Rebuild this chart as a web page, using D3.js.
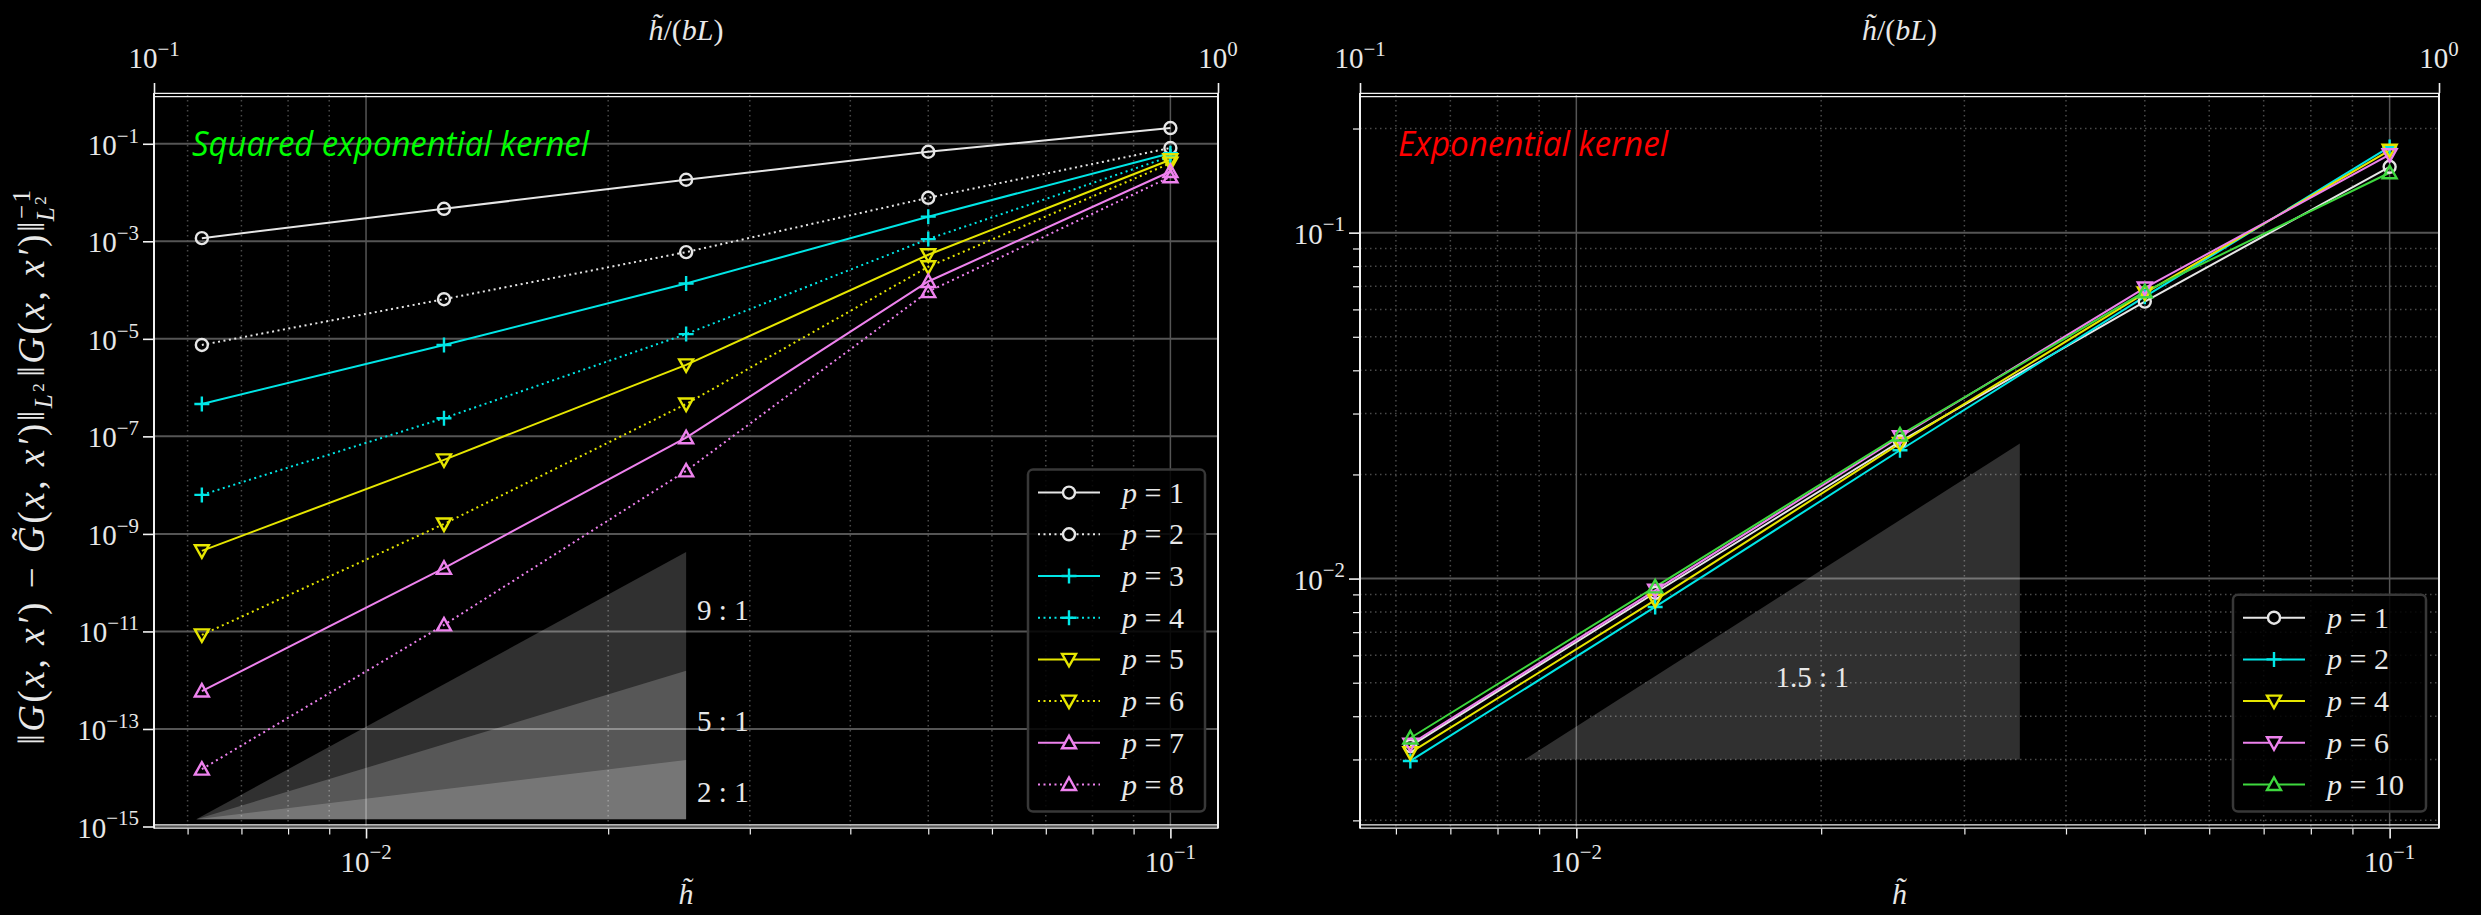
<!DOCTYPE html>
<html>
<head>
<meta charset="utf-8">
<script src="https://cdn.jsdelivr.net/npm/d3@7"></script>
<style>
body { margin: 0; background: #000; }
text { font-family: "Liberation Serif", "DejaVu Serif", serif; fill: #e8e8e8; }
</style>
</head>
<body>
<div id="chart"></div>
<script>
//////////
// Data //
//////////

// mesh size h~ (same for every series)
var hVals = [0.00625, 0.0125, 0.025, 0.05, 0.1];

// Squared exponential kernel, relative L2 error
var seLabels = ["1", "2", "3", "4", "5", "6", "7", "8"];
var seP1 = [1.16e-3, 4.64e-3, 1.83e-2, 6.85e-2, 0.21];
var seP2 = [7.5e-6, 6.5e-5, 6.0e-4, 7.8e-3, 0.082];
var seP3 = [4.6e-7, 7.5e-6, 1.36e-4, 3.2e-3, 0.064];
var seP4 = [6.3e-9, 2.36e-7, 1.25e-5, 1.11e-3, 0.055];
var seP5 = [4.5e-10, 3.3e-8, 2.93e-6, 5.3e-4, 0.047];
var seP6 = [8.5e-12, 1.6e-9, 4.6e-7, 3.0e-4, 0.040];
var seP7 = [6.0e-13, 1.98e-10, 9.4e-8, 1.5e-4, 0.027];
var seP8 = [1.5e-14, 1.36e-11, 1.96e-8, 9.3e-5, 0.021];

// Exponential kernel, relative L2 error
var exLabels = ["1", "2", "4", "6", "10"];
var exP1 = [3.28e-3, 9.1e-3, 0.0249, 0.0632, 0.155];
var exP2 = [2.97e-3, 8.28e-3, 0.0235, 0.0653, 0.177];
var exP4 = [3.14e-3, 8.66e-3, 0.0246, 0.0669, 0.173];
var exP6 = [3.32e-3, 9.25e-3, 0.0257, 0.0692, 0.168];
var exP10 = [3.46e-3, 9.46e-3, 0.0260, 0.0675, 0.149];

// slope triangles
var seSlopes = [9, 5, 2];
var seSlopeBase = {x0: 6.15e-3, x1: 0.025, y0: 1.4e-15};
var seSlopeLabelY = [10 ** -10.56, 10 ** -12.83, 10 ** -14.3];
var exSlopes = [1.5];
var exSlopeBase = {x0: 8.64e-3, x1: 0.0351, y0: 3.0e-3};
var exSlopeLabelY = [10 ** -2.285];

// axis ticks
var xMajor = [1e-2, 1e-1];
var xMinor = [6e-3, 7e-3, 8e-3, 9e-3, 2e-2, 3e-2, 4e-2, 5e-2, 6e-2, 7e-2, 8e-2, 9e-2];
var seYMajor = [1e-15, 1e-13, 1e-11, 1e-9, 1e-7, 1e-5, 1e-3, 1e-1];
var exYMajor = [1e-2, 1e-1];
var exYMinor = [2e-3, 3e-3, 4e-3, 5e-3, 6e-3, 7e-3, 8e-3, 9e-3,
                2e-2, 3e-2, 4e-2, 5e-2, 6e-2, 7e-2, 8e-2, 9e-2, 0.2];
var topTicks = [0.1, 1];

////////////
// Styles //
////////////

var WHITE = "#e6e6e6", CYAN = "#00e6e6", YELLOW = "#e6e600", VIOLET = "#ee82ee", GREEN = "#3ed83e";

var seSeries = [
  {v: seP1, c: WHITE, dash: false, m: "o"},
  {v: seP2, c: WHITE, dash: true, m: "o"},
  {v: seP3, c: CYAN, dash: false, m: "+"},
  {v: seP4, c: CYAN, dash: true, m: "+"},
  {v: seP5, c: YELLOW, dash: false, m: "v"},
  {v: seP6, c: YELLOW, dash: true, m: "v"},
  {v: seP7, c: VIOLET, dash: false, m: "^"},
  {v: seP8, c: VIOLET, dash: true, m: "^"}
].map(function(d, i) { d.label = seLabels[i]; return d; });

var exSeries = [
  {v: exP1, c: WHITE, dash: false, m: "o"},
  {v: exP2, c: CYAN, dash: false, m: "+"},
  {v: exP4, c: YELLOW, dash: false, m: "v"},
  {v: exP6, c: VIOLET, dash: false, m: "v"},
  {v: exP10, c: GREEN, dash: false, m: "^"}
].map(function(d, i) { d.label = exLabels[i]; return d; });

///////////////
// Functions //
///////////////

var markerPath = {
  "o": "M6,0A6,6 0 1,1 -6,0A6,6 0 1,1 6,0Z",
  "+": "M-7.5,0H7.5M0,-7.5V7.5",
  "v": "M-7,-5.5L7,-5.5L0,7Z",
  "^": "M-7,5.5L7,5.5L0,-7Z"
};

var FS = 29; // tick label size

// "10" with a superscript exponent
function powLabel(sel, exp, size) {
  sel.append("tspan").text("10");
  sel.append("tspan").text(exp).attr("font-size", size * 0.72).attr("dy", -size * 0.42);
}

function drawPanel(g, o) {
  var x = d3.scaleLog().domain(o.xDom).range([o.left, o.right]);
  var y = d3.scaleLog().domain(o.yDom).range([o.bottom, o.top]);
  var xt = d3.scaleLog().domain([0.1, 1]).range([o.left, o.right]);

  // Grid
  var grid = g.append("g");
  grid.selectAll(".vmin").data(xMinor).enter().append("line")
    .attr("x1", x).attr("x2", x).attr("y1", o.top).attr("y2", o.bottom)
    .attr("stroke", "#4a4a4a").attr("stroke-width", 1.5).attr("stroke-dasharray", "1.5,3.5");
  grid.selectAll(".hmin").data(o.yMinor).enter().append("line")
    .attr("y1", y).attr("y2", y).attr("x1", o.left).attr("x2", o.right)
    .attr("stroke", "#4a4a4a").attr("stroke-width", 1.5).attr("stroke-dasharray", "1.5,3.5");
  grid.selectAll(".vmaj").data(xMajor).enter().append("line")
    .attr("x1", x).attr("x2", x).attr("y1", o.top).attr("y2", o.bottom)
    .attr("stroke", "#555").attr("stroke-width", 1.5);
  grid.selectAll(".hmaj").data(o.yMajor).enter().append("line")
    .attr("y1", y).attr("y2", y).attr("x1", o.left).attr("x2", o.right)
    .attr("stroke", "#555").attr("stroke-width", 2);

  // Slope triangles
  var sb = o.slopeBase;
  g.selectAll(".tri").data(o.slopes).enter().append("path")
    .attr("d", function(s) {
      var yTop = sb.y0 * Math.pow(sb.x1 / sb.x0, s);
      return "M" + x(sb.x0) + "," + y(sb.y0) + "L" + x(sb.x1) + "," + y(sb.y0) +
             "L" + x(sb.x1) + "," + y(yTop) + "Z";
    })
    .attr("fill", "#fff").attr("fill-opacity", 0.19);
  g.selectAll(".trilab").data(o.slopes).enter().append("text")
    .attr("x", function() { return o.slopeLabelAnchor == "middle" ? (x(sb.x0) + x(sb.x1)) / 2 + 40 : x(sb.x1) + 11; })
    .attr("y", function(s, i) { return y(o.slopeLabelY[i]) + 10; })
    .attr("text-anchor", o.slopeLabelAnchor)
    .attr("font-size", 29)
    .text(function(s) { return s + " : 1"; });

  // Lines
  var line = d3.line().x(function(d, i) { return x(hVals[i]); }).y(function(d) { return y(d); });
  o.series.forEach(function(s) {
    g.append("path").datum(s.v).attr("d", line)
      .attr("fill", "none").attr("stroke", s.c).attr("stroke-width", 2)
      .attr("stroke-dasharray", s.dash ? "2,3.5" : null);
  });
  o.series.forEach(function(s) {
    g.selectAll(null).data(s.v).enter().append("path")
      .attr("transform", function(d, i) { return "translate(" + x(hVals[i]) + "," + y(d) + ")"; })
      .attr("d", markerPath[s.m])
      .attr("fill", "none").attr("stroke", s.c).attr("stroke-width", 2.4);
  });

  // Spines (double line on top and bottom from the twin axis)
  var sp = g.append("g").attr("stroke", "#f2f2f2");
  sp.append("line").attr("x1", o.left).attr("x2", o.left).attr("y1", o.top - 2).attr("y2", o.bottom + 2).attr("stroke-width", 2);
  sp.append("line").attr("x1", o.right).attr("x2", o.right).attr("y1", o.top - 2).attr("y2", o.bottom + 2).attr("stroke-width", 2);
  [-1.6, 1.6].forEach(function(dd) {
    sp.append("line").attr("x1", o.left).attr("x2", o.right).attr("y1", o.top + dd).attr("y2", o.top + dd).attr("stroke-width", 1.4);
    sp.append("line").attr("x1", o.left).attr("x2", o.right).attr("y1", o.bottom + dd).attr("y2", o.bottom + dd).attr("stroke-width", 1.4);
  });

  // Bottom axis
  g.append("g").attr("transform", "translate(0," + (o.bottom + 2) + ")")
    .call(d3.axisBottom(x).tickValues(xMajor).tickSize(10).tickFormat(""))
    .call(function(a) { a.select(".domain").remove(); a.selectAll("line").attr("stroke", "#f2f2f2").attr("stroke-width", 1.6); });
  g.append("g").attr("transform", "translate(0," + (o.bottom + 2) + ")")
    .call(d3.axisBottom(x).tickValues(xMinor).tickSize(6).tickFormat(""))
    .call(function(a) { a.select(".domain").remove(); a.selectAll("line").attr("stroke", "#f2f2f2").attr("stroke-width", 1.2); });
  g.selectAll(".xl").data(xMajor).enter().append("text")
    .attr("x", x).attr("y", o.bottom + 45).attr("text-anchor", "middle").attr("font-size", FS)
    .each(function(d) { powLabel(d3.select(this), "\u2212" + Math.round(-Math.log10(d)), FS); });

  // Top axis
  g.append("g").attr("transform", "translate(0," + (o.top - 2) + ")")
    .call(d3.axisTop(xt).tickValues(topTicks).tickSize(10).tickFormat(""))
    .call(function(a) { a.select(".domain").remove(); a.selectAll("line").attr("stroke", "#f2f2f2").attr("stroke-width", 1.6); });
  g.selectAll(".tl").data(topTicks).enter().append("text")
    .attr("x", xt).attr("y", o.top - 27).attr("text-anchor", "middle").attr("font-size", FS)
    .each(function(d) {
      var e = Math.round(Math.log10(d));
      powLabel(d3.select(this), e < 0 ? "\u2212" + (-e) : "" + e, FS);
    });

  // Left axis
  g.append("g").attr("transform", "translate(" + (o.left - 1) + ",0)")
    .call(d3.axisLeft(y).tickValues(o.yMajor).tickSize(10).tickFormat(""))
    .call(function(a) { a.select(".domain").remove(); a.selectAll("line").attr("stroke", "#f2f2f2").attr("stroke-width", 1.6); });
  g.append("g").attr("transform", "translate(" + (o.left - 1) + ",0)")
    .call(d3.axisLeft(y).tickValues(o.yMinor).tickSize(6).tickFormat(""))
    .call(function(a) { a.select(".domain").remove(); a.selectAll("line").attr("stroke", "#f2f2f2").attr("stroke-width", 1.2); });
  g.selectAll(".yl").data(o.yMajor).enter().append("text")
    .attr("x", o.left - 15).attr("y", function(d) { return y(d) + 11; })
    .attr("text-anchor", "end").attr("font-size", FS)
    .each(function(d) { powLabel(d3.select(this), "\u2212" + Math.round(-Math.log10(d)), FS); });

  // Axis titles
  var mid = (o.left + o.right) / 2;
  var tt = g.append("text").attr("x", mid).attr("y", 40).attr("text-anchor", "middle").attr("font-size", 30);
  tt.append("tspan").attr("font-style", "italic").text("h\u0303");
  tt.append("tspan").text("/(");
  tt.append("tspan").attr("font-style", "italic").text("bL");
  tt.append("tspan").text(")");
  g.append("text").attr("x", mid).attr("y", 904).attr("text-anchor", "middle")
    .attr("font-size", 30).attr("font-style", "italic").text("h\u0303");

  // Kernel name
  g.append("text").attr("x", o.left + 38).attr("y", 156)
    .style("font-family", "'Open Sans', 'DejaVu Sans', sans-serif").attr("font-style", "italic")
    .attr("font-size", 35).style("fill", o.titleColor)
    .attr("textLength", o.titleLen).attr("lengthAdjust", "spacingAndGlyphs")
    .text(o.title);

  // Legend
  var rowH = 41.7, n = o.series.length;
  var lx = o.right - 13 - o.legW;
  var ly0 = o.bottom - 15 - 27 - (n - 1) * rowH;
  var lg = g.append("g");
  lg.append("rect").attr("x", lx).attr("y", ly0 - 23)
    .attr("width", o.legW).attr("height", (n - 1) * rowH + 50).attr("rx", 5)
    .attr("fill", "#000").attr("fill-opacity", 0.85).attr("stroke", "#383838").attr("stroke-width", 2.5);
  o.series.forEach(function(s, i) {
    var yy = ly0 + i * rowH;
    lg.append("line").attr("x1", lx + 10).attr("x2", lx + 72).attr("y1", yy).attr("y2", yy)
      .attr("stroke", s.c).attr("stroke-width", 2).attr("stroke-dasharray", s.dash ? "2,3.5" : null);
    lg.append("path").attr("transform", "translate(" + (lx + 41) + "," + yy + ")")
      .attr("d", markerPath[s.m]).attr("fill", "#000").attr("stroke", s.c).attr("stroke-width", 2.4);
    var t = lg.append("text").attr("x", lx + 94).attr("y", yy + 10).attr("font-size", 30);
    t.append("tspan").attr("font-style", "italic").text("p");
    t.append("tspan").text(" = " + s.label);
  });
}

///////////////////
// Initial setup //
///////////////////

var width = 2481, height = 915;
var svg = d3.select("#chart").append("svg")
  .attr("width", width).attr("height", height)
  .style("background", "#000");

drawPanel(svg.append("g"), {
  left: 154, right: 1218, top: 95, bottom: 826.5,
  xDom: [5.45e-3, 0.1146], yDom: [1e-15, 1],
  yMajor: seYMajor, yMinor: [],
  series: seSeries, legW: 177,
  slopes: seSlopes, slopeBase: seSlopeBase, slopeLabelY: seSlopeLabelY, slopeLabelAnchor: "start",
  title: "Squared exponential kernel", titleColor: "#00ff00", titleLen: 397
});

drawPanel(svg.append("g"), {
  left: 1360, right: 2439, top: 95, bottom: 826.5,
  xDom: [5.42e-3, 0.115], yDom: [1.92e-3, 0.25],
  yMajor: exYMajor, yMinor: exYMinor,
  series: exSeries, legW: 193,
  slopes: exSlopes, slopeBase: exSlopeBase, slopeLabelY: exSlopeLabelY, slopeLabelAnchor: "middle",
  title: "Exponential kernel", titleColor: "#ff0000", titleLen: 270
});

// Y label of the left panel
var yl = svg.append("text")
  .attr("transform", "translate(44,466) rotate(-90)")
  .attr("text-anchor", "middle").attr("font-size", 37)
  .style("letter-spacing", "2.6px");
yl.append("tspan").text("\u2016");
yl.append("tspan").attr("font-style", "italic").text("G");
yl.append("tspan").text("(");
yl.append("tspan").attr("font-style", "italic").text("x");
yl.append("tspan").text(", ");
yl.append("tspan").attr("font-style", "italic").text("x\u2032");
yl.append("tspan").text(") \u2212 ");
yl.append("tspan").attr("font-style", "italic").text("G\u0303");
yl.append("tspan").text("(");
yl.append("tspan").attr("font-style", "italic").text("x");
yl.append("tspan").text(", ");
yl.append("tspan").attr("font-style", "italic").text("x\u2032");
yl.append("tspan").text(")\u2016");
yl.append("tspan").attr("font-style", "italic").attr("font-size", 25).attr("dy", 8).text("L");
yl.append("tspan").attr("font-size", 17).attr("dy", -8).text("2");
yl.append("tspan").attr("dx", 4).attr("dy", 0).text("\u2016");
yl.append("tspan").attr("font-style", "italic").text("G");
yl.append("tspan").text("(");
yl.append("tspan").attr("font-style", "italic").text("x");
yl.append("tspan").text(", ");
yl.append("tspan").attr("font-style", "italic").text("x\u2032");
yl.append("tspan").text(")\u2016");
yl.append("tspan").attr("font-size", 25).attr("dy", -14).text("\u22121");
yl.append("tspan").attr("font-style", "italic").attr("font-size", 25).attr("dx", -34).attr("dy", 24).text("L");
yl.append("tspan").attr("font-size", 17).attr("dy", -8).text("2");
</script>
</body>
</html>
